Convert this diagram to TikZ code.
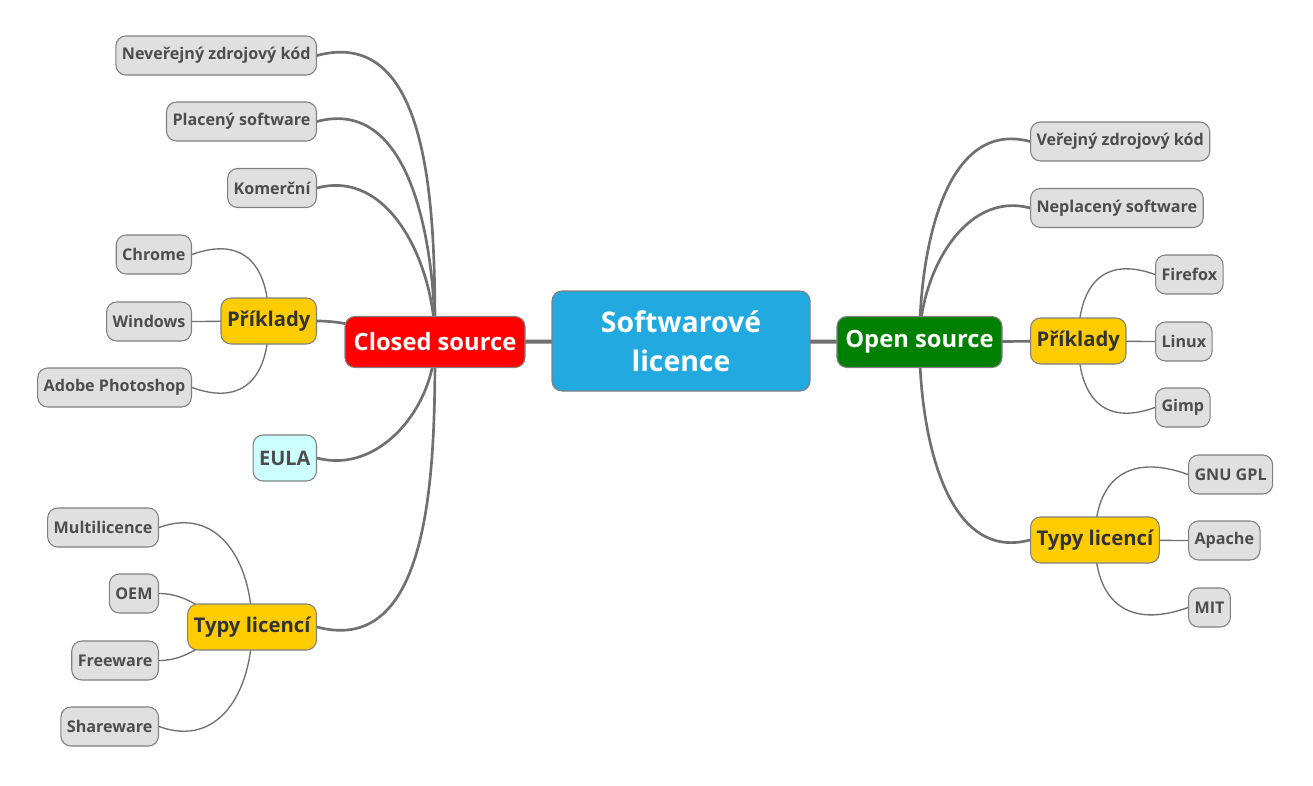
\documentclass[tikz,border=0pt]{standalone}
\usepackage{fontspec}
\setmainfont{Open Sans}
\usetikzlibrary{backgrounds}
\tikzset{% change default arrow tips
    >=latex
}
\definecolor{leafgray}{HTML}{E0E0E0}
\definecolor{boxline}{HTML}{808080}
\definecolor{wiregray}{HTML}{707070}
\definecolor{txtgray}{HTML}{4D4D4D}
\definecolor{rootblue}{HTML}{22AAE0}
\definecolor{catyellow}{HTML}{FFCC00}
\definecolor{eulacyan}{HTML}{CCFFFF}
\definecolor{osgreen}{HTML}{008000}
\tikzset{
    box/.style={rectangle, rounded corners=7.5pt, draw=boxline, line width=0.8pt, inner xsep=4.5pt},
    leaf/.style={box, fill=leafgray, text=txtgray, minimum height=29.25pt,
        font=\bfseries\fontsize{12.1}{14}\selectfont},
    cat/.style={box, fill=catyellow, text=black!80, minimum height=34.5pt,
        font=\bfseries\fontsize{15.2}{17}\selectfont},
    branch/.style={box, text=white, minimum height=38.25pt, minimum width=#1,
        font=\bfseries\fontsize{17.8}{20}\selectfont},
    rootbox/.style={box, fill=rootblue, text=white, minimum width=193.5pt, minimum height=75pt,
        align=center, font=\bfseries\fontsize{21.3}{29}\selectfont},
    trunk/.style={draw=wiregray, line width=3pt},
    limb/.style={draw=wiregray, line width=2pt},
    twig/.style={draw=wiregray, line width=1pt}
}

\begin{document}
\begin{tikzpicture}[x=0.75pt, y=-0.75pt]
    \newcommand{\lcol}{317}
    \newcommand{\rcol}{1030}

    \useasboundingbox (0,0) rectangle (1313,785);

    % centre
    \node[rootbox] (root) at (681,341) {Softwarové\\licence};
    \node[branch=135pt, fill=red] (closed) at (435,342) {Closed source};
    \node[branch=123.75pt, fill=osgreen] (open) at (919.5,342) {Open source};

    % closed source side
    \node[leaf, anchor=east] (nezdroj) at (\lcol,55.5) {Neveřejný zdrojový kód};
    \node[leaf, anchor=east] (placeny) at (\lcol,121.5) {Placený software};
    \node[leaf, anchor=east] (komerc) at (\lcol,188) {Komerční};
    \node[cat, anchor=east] (prikL) at (\lcol,321) {Příklady};
    \node[leaf, anchor=east] (chrome) at (192,254.5) {Chrome};
    \node[leaf, anchor=east] (windows) at (192,321.5) {Windows};
    \node[leaf, anchor=east] (adobe) at (192,387.5) {Adobe Photoshop};
    \node[box, fill=eulacyan, text=txtgray, minimum height=34.5pt, anchor=east,
        font=\bfseries\fontsize{15}{17}\selectfont] (eula) at (\lcol,458) {EULA};
    \node[cat, anchor=east] (typyL) at (\lcol,627) {Typy licencí};
    \node[leaf, anchor=east] (multi) at (159,527.5) {Multilicence};
    \node[leaf, anchor=east] (oem) at (159,593.5) {OEM};
    \node[leaf, anchor=east] (freew) at (159,660.5) {Freeware};
    \node[leaf, anchor=east] (sharew) at (159,726.5) {Shareware};

    % open source side
    \node[leaf, anchor=west] (vezdroj) at (\rcol,141.5) {Veřejný zdrojový kód};
    \node[leaf, anchor=west] (neplac) at (\rcol,208) {Neplacený software};
    \node[cat, anchor=west] (prikR) at (\rcol,341) {Příklady};
    \node[leaf, anchor=west] (firefox) at (1155,274.5) {Firefox};
    \node[leaf, anchor=west] (linux) at (1155,341.5) {Linux};
    \node[leaf, anchor=west] (gimp) at (1155,407.5) {Gimp};
    \node[cat, anchor=west] (typyR) at (\rcol,540) {Typy licencí};
    \node[leaf, anchor=west] (gnu) at (1188,474.5) {GNU GPL};
    \node[leaf, anchor=west] (apache) at (1188,540.5) {Apache};
    \node[leaf, anchor=west] (mit) at (1188,607.5) {MIT};

    % connectors
    \begin{scope}[on background layer]
        \fill[white] (0,0) rectangle (1313,785);
        \draw[trunk] (root.center) -- (closed.center);
        \draw[trunk] (root.center) -- (open.center);

        \draw[limb] (closed.center) to[out=90, in=15] (nezdroj.east);
        \draw[limb] (closed.center) to[out=90, in=15] (placeny.east);
        \draw[limb] (closed.center) to[out=90, in=15] (komerc.east);
        \draw[limb] (closed.center) to[out=180, in=0] (prikL.east);
        \draw[limb] (closed.center) to[out=-90, in=-15] (eula.east);
        \draw[limb] (closed.center) to[out=-90, in=-15] (typyL.east);

        \draw[twig] (prikL.center) to[out=90, in=20, looseness=1.4] (chrome.east);
        \draw[twig] (prikL.center) -- (windows.east);
        \draw[twig] (prikL.center) to[out=-90, in=-20, looseness=1.4] (adobe.east);

        \draw[twig] (typyL.center) to[out=90, in=20, looseness=1.2] (multi.east);
        \draw[twig] (typyL.center) to[out=180, in=0] (oem.east);
        \draw[twig] (typyL.center) to[out=180, in=0] (freew.east);
        \draw[twig] (typyL.center) to[out=-90, in=-20, looseness=1.2] (sharew.east);

        \draw[limb] (open.center) to[out=90, in=165] (vezdroj.west);
        \draw[limb] (open.center) to[out=90, in=165] (neplac.west);
        \draw[limb] (open.center) -- (prikR.center);
        \draw[limb] (open.center) to[out=-90, in=-165] (typyR.west);

        \draw[twig] (prikR.center) to[out=90, in=160, looseness=1.4] (firefox.west);
        \draw[twig] (prikR.center) -- (linux.west);
        \draw[twig] (prikR.center) to[out=-90, in=-160, looseness=1.4] (gimp.west);

        \draw[twig] (typyR.center) to[out=90, in=160, looseness=1.4] (gnu.west);
        \draw[twig] (typyR.center) -- (apache.west);
        \draw[twig] (typyR.center) to[out=-90, in=-160, looseness=1.4] (mit.west);
    \end{scope}
\end{tikzpicture}
\end{document}
